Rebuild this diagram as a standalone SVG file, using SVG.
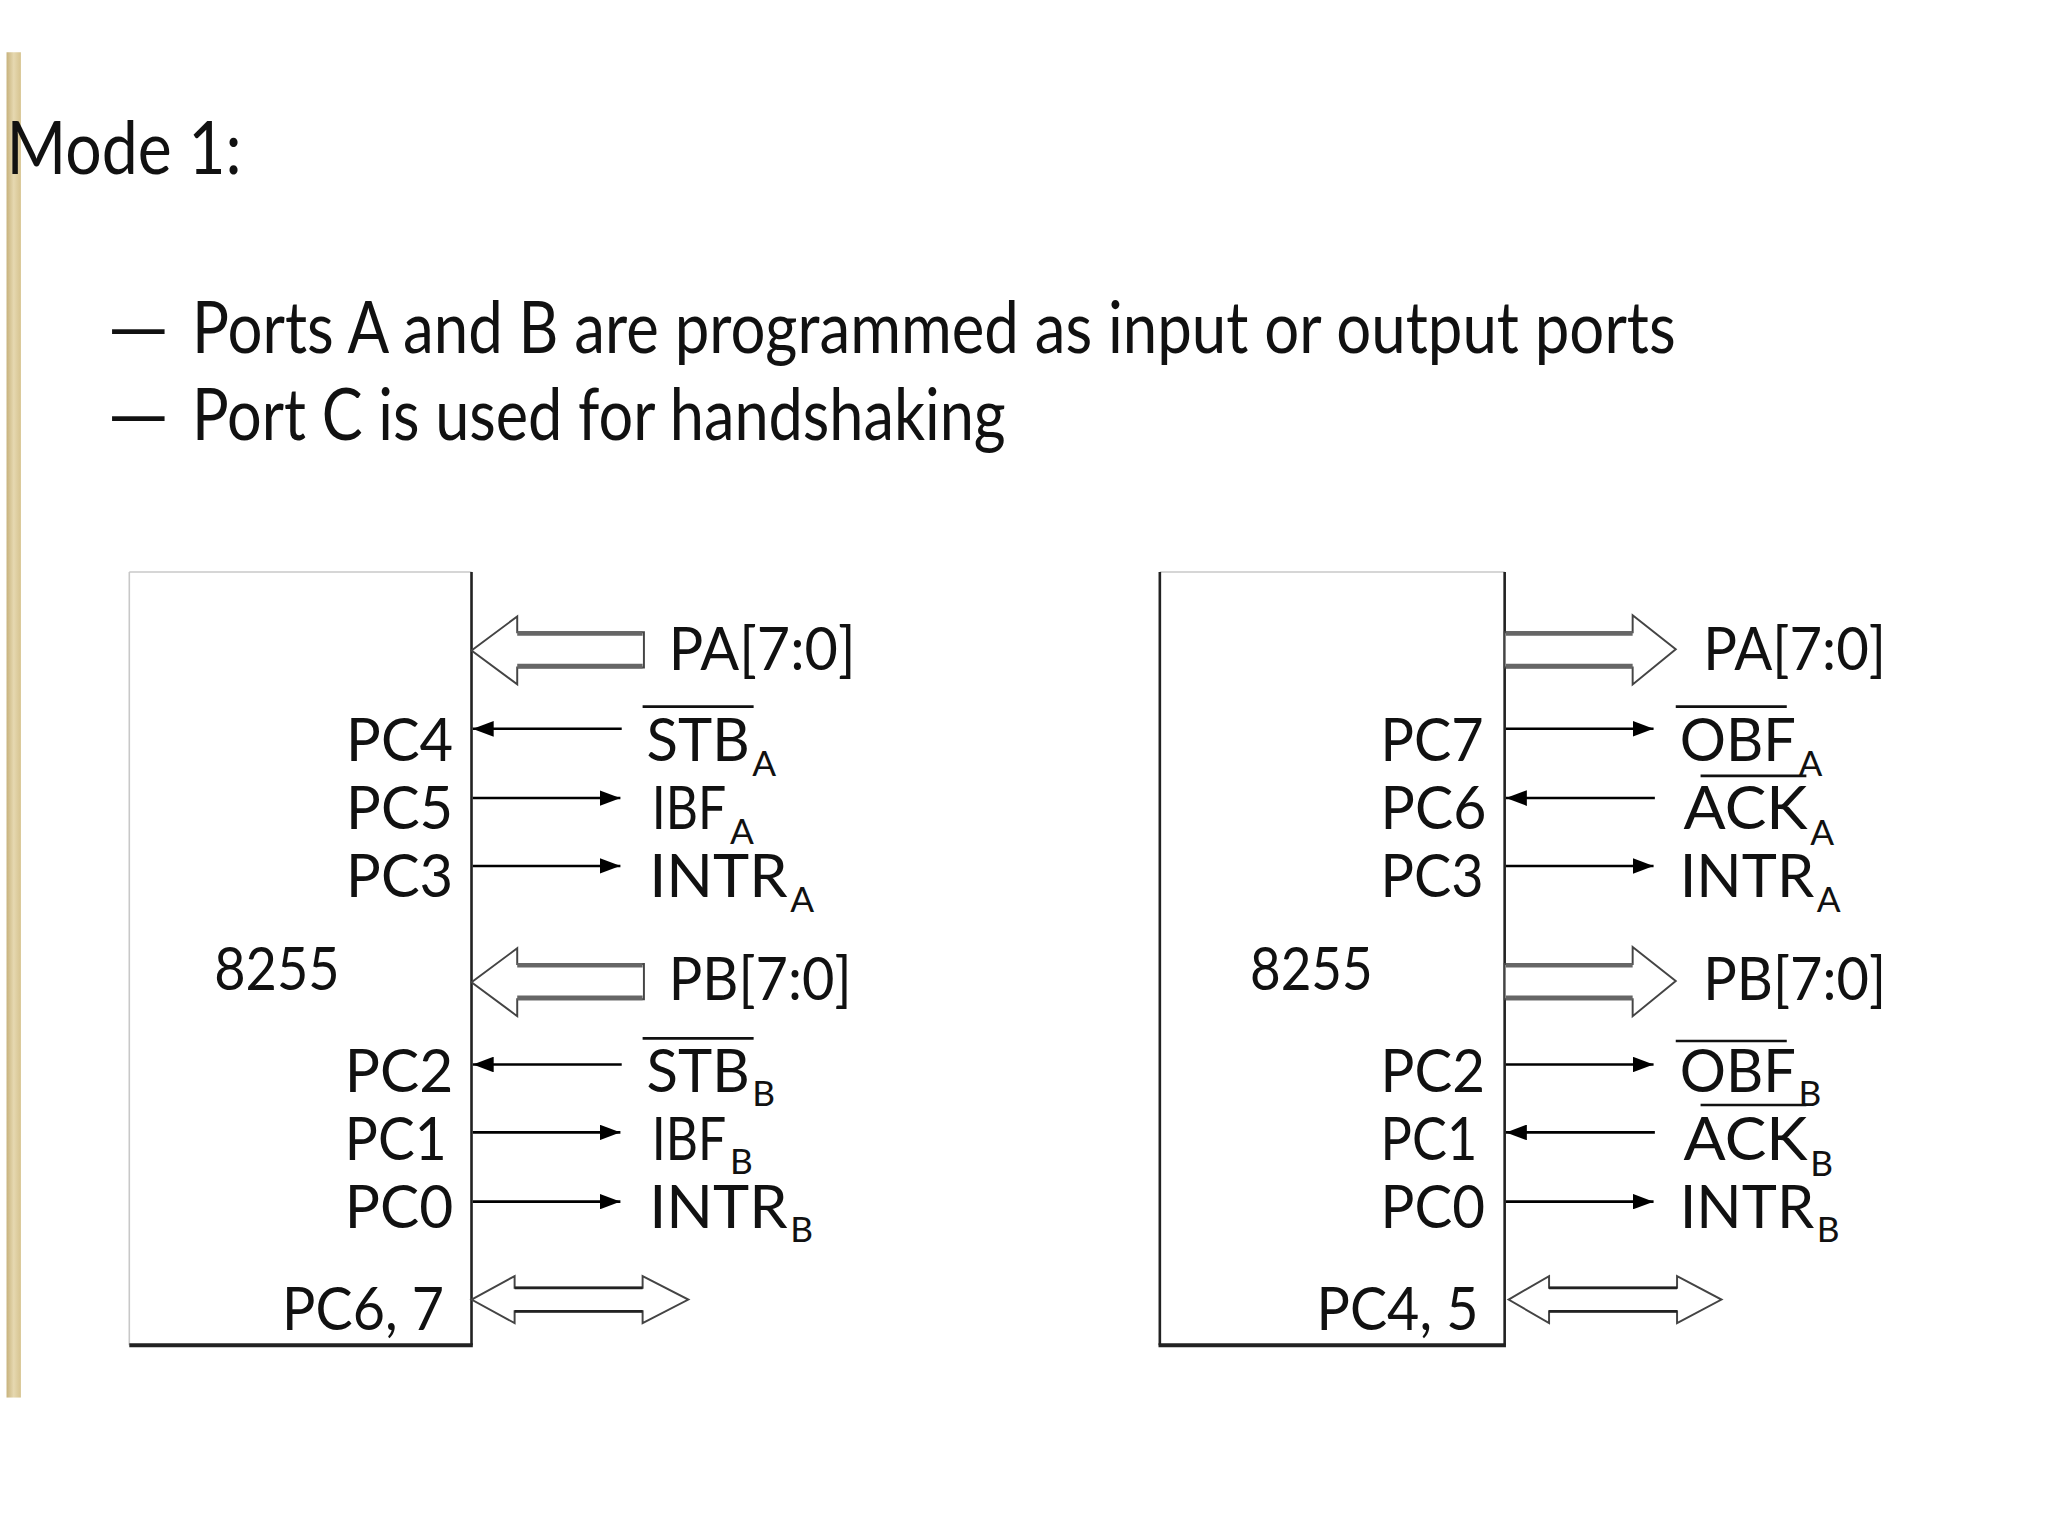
<svg xmlns="http://www.w3.org/2000/svg" width="2048" height="1536" viewBox="0 0 2048 1536">
<defs>
<linearGradient id="bar" x1="0" y1="0" x2="1" y2="0">
<stop offset="0" stop-color="#c7b27c"/>
<stop offset="0.5" stop-color="#e6d8b0"/>
<stop offset="1" stop-color="#d6c38f"/>
</linearGradient>
<marker id="ah" viewBox="0 0 10 10" refX="10" refY="5" markerWidth="16" markerHeight="12" markerUnits="userSpaceOnUse" orient="auto" preserveAspectRatio="none">
<path d="M0,0 L10,5 L0,10 z" fill="#000"/>
</marker>
<style>
text{font-family:"Lato","Liberation Sans",Arial,sans-serif;fill:#111}
.title{font-size:57px}
.bul{font-size:55px}
.lbl{font-size:46px}
.sub{font-size:27px}
.ov{stroke:#111;stroke-width:2}
.sig{stroke:#000;stroke-width:2;fill:none;marker-end:url(#ah)}
.bus{fill:#fff;stroke:#444;stroke-width:1.5;stroke-linejoin:miter}
.shaft{stroke:#666;stroke-width:3.5}
.boxlite{stroke:#c8c8c8;stroke-width:1.2}
.boxdark{stroke:#222;stroke-width:2}
.boxbot{stroke:#222;stroke-width:3}
</style>
</defs>
<rect width="2048" height="1536" fill="#fff"/>
<g transform="scale(1.306122)">
<rect id="sidebar" x="5" y="40" width="11" height="1030" fill="url(#bar)"/>
<g id="title"><text class="title" x="5" y="133" textLength="180" lengthAdjust="spacingAndGlyphs">Mode 1:</text></g>
<g id="bullets">
<text class="bul" x="82" y="270" textLength="48" lengthAdjust="spacingAndGlyphs">—</text>
<text class="bul" x="147" y="270" textLength="1136" lengthAdjust="spacingAndGlyphs">Ports A and B are programmed as input or output ports</text>
<text class="bul" x="82" y="337" textLength="48" lengthAdjust="spacingAndGlyphs">—</text>
<text class="bul" x="147" y="337" textLength="623" lengthAdjust="spacingAndGlyphs">Port C is used for handshaking</text>
</g>

<g id="chip-left">
<rect x="99" y="438" width="262" height="592" fill="#fff" stroke="none"/>
<line class="boxlite" x1="99" y1="438" x2="361" y2="438"/>
<line class="boxlite" x1="99" y1="438" x2="99" y2="1030"/>
<line class="boxdark" x1="361" y1="438" x2="361" y2="1030"/>
<line class="boxbot" x1="99" y1="1030" x2="362" y2="1030"/>
<text class="lbl" x="164" y="758" textLength="96" lengthAdjust="spacingAndGlyphs">8255</text>
<text class="lbl" x="265" y="583" textLength="82" lengthAdjust="spacingAndGlyphs">PC4</text>
<text class="lbl" x="265" y="635" textLength="82" lengthAdjust="spacingAndGlyphs">PC5</text>
<text class="lbl" x="265" y="687" textLength="82" lengthAdjust="spacingAndGlyphs">PC3</text>
<text class="lbl" x="264" y="836" textLength="83" lengthAdjust="spacingAndGlyphs">PC2</text>
<text class="lbl" x="264" y="888" textLength="78" lengthAdjust="spacingAndGlyphs">PC1</text>
<text class="lbl" x="264" y="940" textLength="83" lengthAdjust="spacingAndGlyphs">PC0</text>
<text class="lbl" x="216" y="1018" textLength="124" lengthAdjust="spacingAndGlyphs">PC6, 7</text>
</g>

<g id="signals-left">
<text class="lbl" x="512" y="513" textLength="143" lengthAdjust="spacingAndGlyphs">PA[7:0]</text>
<text class="lbl" x="495" y="583" textLength="79" lengthAdjust="spacingAndGlyphs">STB</text>
<text class="sub" x="576" y="594">A</text>
<line class="ov" x1="492" y1="541" x2="577" y2="541"/>
<text class="lbl" x="499" y="635" textLength="57" lengthAdjust="spacingAndGlyphs">IBF</text>
<text class="sub" x="559" y="646">A</text>
<text class="lbl" x="497" y="687" textLength="106" lengthAdjust="spacingAndGlyphs">INTR</text>
<text class="sub" x="605" y="698">A</text>
<text class="lbl" x="512" y="766" textLength="140" lengthAdjust="spacingAndGlyphs">PB[7:0]</text>
<text class="lbl" x="495" y="836" textLength="79" lengthAdjust="spacingAndGlyphs">STB</text>
<text class="sub" x="576" y="847">B</text>
<line class="ov" x1="492" y1="795" x2="577" y2="795"/>
<text class="lbl" x="499" y="888" textLength="57" lengthAdjust="spacingAndGlyphs">IBF</text>
<text class="sub" x="559" y="899">B</text>
<text class="lbl" x="497" y="940" textLength="106" lengthAdjust="spacingAndGlyphs">INTR</text>
<text class="sub" x="605" y="951">B</text>
</g>

<g id="chip-right">
<rect x="888" y="438" width="264" height="592" fill="#fff" stroke="none"/>
<line class="boxlite" x1="888" y1="438" x2="1152" y2="438"/>
<line class="boxdark" x1="888" y1="438" x2="888" y2="1030"/>
<line class="boxdark" x1="1152" y1="438" x2="1152" y2="1030"/>
<line class="boxbot" x1="887" y1="1030" x2="1153" y2="1030"/>
<text class="lbl" x="957" y="758" textLength="94" lengthAdjust="spacingAndGlyphs">8255</text>
<text class="lbl" x="1057" y="583" textLength="79" lengthAdjust="spacingAndGlyphs">PC7</text>
<text class="lbl" x="1057" y="635" textLength="81" lengthAdjust="spacingAndGlyphs">PC6</text>
<text class="lbl" x="1057" y="687" textLength="79" lengthAdjust="spacingAndGlyphs">PC3</text>
<text class="lbl" x="1057" y="836" textLength="80" lengthAdjust="spacingAndGlyphs">PC2</text>
<text class="lbl" x="1057" y="888" textLength="74" lengthAdjust="spacingAndGlyphs">PC1</text>
<text class="lbl" x="1057" y="940" textLength="80" lengthAdjust="spacingAndGlyphs">PC0</text>
<text class="lbl" x="1008" y="1018" textLength="124" lengthAdjust="spacingAndGlyphs">PC4, 5</text>
</g>

<g id="signals-right">
<text class="lbl" x="1304" y="513" textLength="140" lengthAdjust="spacingAndGlyphs">PA[7:0]</text>
<text class="lbl" x="1286" y="583" textLength="89" lengthAdjust="spacingAndGlyphs">OBF</text>
<text class="sub" x="1377" y="594">A</text>
<line class="ov" x1="1283" y1="541" x2="1368" y2="541"/>
<text class="lbl" x="1289" y="635" textLength="95" lengthAdjust="spacingAndGlyphs">ACK</text>
<text class="sub" x="1386" y="647">A</text>
<line class="ov" x1="1302" y1="594" x2="1383" y2="594"/>
<text class="lbl" x="1286" y="687" textLength="103" lengthAdjust="spacingAndGlyphs">INTR</text>
<text class="sub" x="1391" y="698">A</text>
<text class="lbl" x="1304" y="766" textLength="140" lengthAdjust="spacingAndGlyphs">PB[7:0]</text>
<text class="lbl" x="1286" y="836" textLength="89" lengthAdjust="spacingAndGlyphs">OBF</text>
<text class="sub" x="1377" y="847">B</text>
<line class="ov" x1="1283" y1="797" x2="1368" y2="797"/>
<text class="lbl" x="1289" y="888" textLength="95" lengthAdjust="spacingAndGlyphs">ACK</text>
<text class="sub" x="1386" y="900">B</text>
<line class="ov" x1="1302" y1="846" x2="1383" y2="846"/>
<text class="lbl" x="1286" y="940" textLength="103" lengthAdjust="spacingAndGlyphs">INTR</text>
<text class="sub" x="1391" y="951">B</text>
</g>

<g id="connectors">
<polygon class="bus" points="361,498 396,472 396,484 493,484 493,511 396,511 396,524"/>
<line class="shaft" x1="396" y1="485" x2="492" y2="485"/>
<line class="shaft" x1="396" y1="510" x2="492" y2="510"/>
<polygon class="bus" points="361,752 396,726 396,738 493,738 493,765 396,765 396,778"/>
<line class="shaft" x1="396" y1="739" x2="492" y2="739"/>
<line class="shaft" x1="396" y1="764" x2="492" y2="764"/>
<line class="sig" x1="476" y1="558" x2="362" y2="558"/>
<line class="sig" x1="362" y1="611" x2="475" y2="611"/>
<line class="sig" x1="362" y1="663" x2="475" y2="663"/>
<line class="sig" x1="476" y1="815" x2="362" y2="815"/>
<line class="sig" x1="362" y1="867" x2="475" y2="867"/>
<line class="sig" x1="362" y1="920" x2="475" y2="920"/>
<polygon class="bus" points="361,995 394,977 394,986 492,986 492,977 527,995 492,1013 492,1004 394,1004 394,1013"/>
<line stroke="#222" stroke-width="2" x1="394" y1="986" x2="492" y2="986"/>
<line stroke="#222" stroke-width="2" x1="394" y1="1004" x2="492" y2="1004"/>

<polygon class="bus" points="1152,484 1250,484 1250,471 1283,497 1250,524 1250,511 1152,511"/>
<line class="shaft" x1="1153" y1="485" x2="1250" y2="485"/>
<line class="shaft" x1="1153" y1="510" x2="1250" y2="510"/>
<polygon class="bus" points="1152,738 1250,738 1250,725 1283,751 1250,778 1250,765 1152,765"/>
<line class="shaft" x1="1153" y1="739" x2="1250" y2="739"/>
<line class="shaft" x1="1153" y1="764" x2="1250" y2="764"/>
<line class="sig" x1="1153" y1="558" x2="1266" y2="558"/>
<line class="sig" x1="1267" y1="611" x2="1153" y2="611"/>
<line class="sig" x1="1153" y1="663" x2="1266" y2="663"/>
<line class="sig" x1="1153" y1="815" x2="1266" y2="815"/>
<line class="sig" x1="1267" y1="867" x2="1153" y2="867"/>
<line class="sig" x1="1153" y1="920" x2="1266" y2="920"/>
<polygon class="bus" points="1155,995 1186,977 1186,986 1284,986 1284,977 1318,995 1284,1013 1284,1004 1186,1004 1186,1013"/>
<line stroke="#222" stroke-width="2" x1="1186" y1="986" x2="1284" y2="986"/>
<line stroke="#222" stroke-width="2" x1="1186" y1="1004" x2="1284" y2="1004"/>
</g>
</g>
</svg>
